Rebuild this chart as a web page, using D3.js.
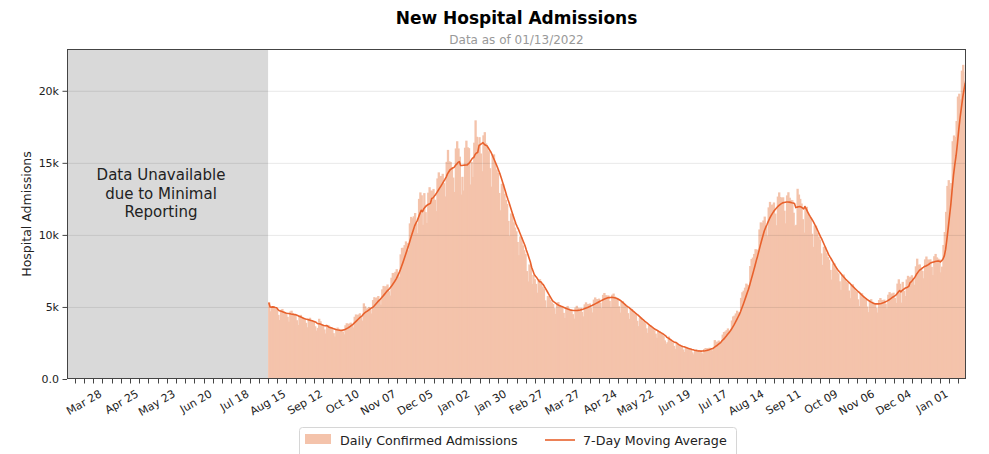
<!DOCTYPE html>
<html>
<head>
<meta charset="utf-8">
<script src="https://cdn.jsdelivr.net/npm/d3@7"></script>
<style>
  body { margin: 0; background: #fff; }
  svg { display: block; font-family: "DejaVu Sans", sans-serif; }
</style>
</head>
<body>
<div id="chart"></div>
<script>
// daily confirmed admissions, one value per day from START_DATE (week rows, Sat..Fri)
const START_DATE = "2020-08-01";
const dailyAdmissions = [
  5310, 4700, 4960, 5050, 4930, 4850, 4820,
  4450, 4090, 4800, 4860, 4680, 4600, 4570,
  4320, 3980, 4680, 4740, 4580, 4500, 4480,
  4080, 3750, 4400, 4450, 4290, 4220, 4180,
  3900, 3590, 4200, 4250, 4100, 4030, 3990,
  3660, 3360, 3550, 4180, 4010, 3760, 3720,
  3440, 3160, 3710, 3750, 3620, 3560, 3530,
  3180, 2950, 3500, 3570, 3480, 3450, 3460,
  3290, 3100, 3730, 3870, 3820, 3850, 3910,
  3790, 3580, 4320, 4480, 4440, 4480, 4560,
  4290, 4050, 5250, 5050, 4890, 4920, 5000,
  4820, 4550, 5480, 5680, 5620, 5660, 5760,
  5460, 5160, 6220, 6460, 6390, 6440, 6560,
  6090, 5790, 7030, 7360, 7330, 7440, 7620,
  7400, 7090, 8650, 9100, 9110, 9290, 9550,
  9430, 8930, 10800, 11250, 11160, 11290, 11520,
  10800, 10120, 12500, 12950, 12750, 10700, 12900,
  11580, 10830, 12930, 13310, 13070, 13070, 13190,
  12440, 11650, 13920, 14340, 14080, 14090, 14240,
  13590, 12670, 15070, 15900, 15110, 15060, 14710,
  13980, 12980, 16000, 16500, 16000, 15430, 12800,
  14030, 13080, 16050, 16540, 16080, 16020, 13500,
  15070, 14020, 16400, 17950, 16810, 16300, 16780,
  15650, 14420, 16910, 17130, 16350, 16090, 15800,
  14630, 13350, 15540, 15590, 14910, 14540, 14300,
  12910, 11710, 13550, 13520, 12850, 12440, 12150,
  10970, 9940, 11490, 11450, 10870, 10510, 10250,
  9510, 8590, 9890, 9820, 9280, 8940, 8680,
  7490, 6770, 7950, 7850, 6600, 7220, 6930,
  6600, 5990, 6940, 6930, 6600, 6400, 6260,
  5460, 4970, 5760, 5760, 5480, 5320, 5210,
  4920, 4520, 5290, 5340, 5140, 5050, 5000,
  4590, 4240, 4990, 5070, 4900, 4840, 4820,
  4500, 4190, 4960, 5080, 4950, 4920, 4940,
  4660, 4350, 5180, 5320, 5210, 5200, 5240,
  4950, 4620, 5510, 5660, 5550, 5540, 5580,
  5300, 4920, 5840, 5970, 5820, 5780, 5800,
  5420, 4990, 5850, 5930, 5720, 5620, 5590,
  5050, 4610, 5380, 5410, 5180, 5060, 4980,
  4570, 4170, 4840, 4860, 4640, 4510, 4440,
  4040, 3670, 4260, 4260, 4060, 3950, 3870,
  3520, 3200, 3720, 3720, 3550, 3450, 3380,
  3150, 2860, 3320, 3320, 3160, 3070, 3000,
  2680, 2430, 2550, 2950, 2760, 2620, 2510,
  2300, 2090, 2430, 2440, 2330, 2260, 2220,
  2050, 1880, 2190, 2200, 2120, 2070, 2040,
  1850, 1710, 2020, 2060, 1990, 1970, 1970,
  1840, 1730, 2080, 2150, 2120, 2140, 2170,
  2060, 1970, 2200, 2700, 2580, 2590, 2670,
  2580, 2500, 3080, 3260, 3300, 3390, 3510,
  3360, 3270, 4060, 4340, 4400, 4550, 4740,
  4630, 4520, 5630, 6020, 6130, 6340, 6620,
  6540, 6340, 7840, 8330, 8430, 8680, 9010,
  8980, 8550, 10380, 10870, 10830, 11000, 11270,
  10610, 9950, 11910, 12290, 12080, 12110, 12250,
  11480, 10670, 12660, 12950, 12630, 12560, 12610,
  11680, 10800, 12740, 12960, 12580, 12430, 12410,
  11540, 10630, 10700, 13200, 12800, 12500, 12180,
  11090, 10160, 11860, 11950, 11470, 11220, 11080,
  10080, 9170, 10650, 10650, 10160, 9870, 9680,
  8720, 7920, 9180, 9170, 8730, 8460, 8280,
  7570, 6900, 8020, 8030, 7670, 7470, 7340,
  6780, 6190, 7220, 7250, 6940, 6770, 6670,
  6140, 5610, 6540, 6570, 6300, 6140, 6050,
  5530, 5060, 5910, 5950, 5710, 5580, 5510,
  5030, 4640, 5460, 5540, 5360, 5290, 5270,
  4940, 4610, 5480, 5620, 5490, 5470, 5510,
  5230, 4900, 5850, 6030, 5920, 5930, 5990,
  5630, 5280, 6620, 6920, 6610, 5300, 6740,
  6120, 5760, 6910, 7160, 7060, 7100, 7200,
  6970, 6540, 7820, 8350, 7930, 7950, 7700,
  7500, 6990, 8300, 8500, 8300, 8260, 8310,
  7780, 7210, 8520, 8680, 8440, 8350, 8300,
  7400, 7800, 9300, 10200, 11600, 13400, 13800,
  13200, 13600, 16500, 16900, 16800, 17900, 19600,
  19800, 19400, 21400, 21800, 20700, 21300
];

const X_DOMAIN = ["2020-03-01", "2022-01-14"];
const FIRST_LABEL_DATE = "2020-03-28"; // labelled every 4 weeks from here
const yTickValues = [0, 5000, 10000, 15000, 20000];
const yTickLabels = ["0.0", "5k", "10k", "15k", "20k"];
const Y_MAX = 22900;
const legendLabels = ["Daily Confirmed Admissions", "7-Day Moving Average"];
const unavailableLines = ["Data Unavailable", "due to Minimal", "Reporting"];

const WIDTH = 989,
    HEIGHT = 454,
    MARGIN = {top: 49, right: 23, bottom: 75, left: 67},
    COLOR_BAR = "#f4c3ab",
    COLOR_LINE = "#e8612c",
    COLOR_GRAY = "#d9d9d9",
    COLOR_TEXT = "#222",
    COLOR_SPINE = "#444";

const parse = d3.utcParse("%Y-%m-%d");
const start = parse(START_DATE);

// 7-day trailing mean of the daily values
const data = dailyAdmissions.map((v, i) => {
    const win = dailyAdmissions.slice(Math.max(0, i - 6), i + 1);
    return {date: d3.utcDay.offset(start, i), value: v, avg: d3.mean(win)};
});

const svg = d3.select("#chart")
    .append("svg")
    .attr("width", WIDTH)
    .attr("height", HEIGHT);

const x = d3.scaleUtc()
    .domain(X_DOMAIN.map(parse))
    .range([MARGIN.left, WIDTH - MARGIN.right]);

const y = d3.scaleLinear()
    .domain([0, Y_MAX])
    .range([HEIGHT - MARGIN.bottom, MARGIN.top]);

const plotTop = MARGIN.top, plotBottom = HEIGHT - MARGIN.bottom;

// gray "no data" zone
svg.append("rect")
    .attr("x", x.range()[0])
    .attr("y", plotTop)
    .attr("width", x(start) - x.range()[0])
    .attr("height", plotBottom - plotTop)
    .attr("fill", COLOR_GRAY);

svg.append("text")
    .attr("text-anchor", "middle")
    .attr("font-size", 15)
    .attr("fill", COLOR_TEXT)
    .selectAll("tspan")
    .data(unavailableLines)
    .join("tspan")
    .attr("x", 161)
    .attr("y", (d, i) => 180 + i * 18.5)
    .text(d => d);

// bars (slightly widened so neighbours overlap without seams)
const dayW = x(d3.utcDay.offset(start, 1)) - x(start);
svg.append("g")
    .attr("fill", COLOR_BAR)
    .selectAll("rect")
    .data(data)
    .join("rect")
    .attr("x", d => x(d.date))
    .attr("y", d => y(d.value))
    .attr("width", (d, i) => i === data.length - 1 ? dayW : dayW + 1)
    .attr("height", d => y(0) - y(d.value));

// gridlines (drawn over bars like the original)
svg.append("g")
    .selectAll("line")
    .data(yTickValues.slice(1))
    .join("line")
    .attr("x1", x.range()[0])
    .attr("x2", x.range()[1])
    .attr("y1", d => y(d) + 0.5)
    .attr("y2", d => y(d) + 0.5)
    .attr("stroke", "#000")
    .attr("stroke-opacity", 0.09);

// moving average
svg.append("path")
    .datum(data)
    .attr("fill", "none")
    .attr("stroke", COLOR_LINE)
    .attr("stroke-width", 1.6)
    .attr("stroke-linejoin", "round")
    .attr("d", d3.line().x(d => x(d.date) + dayW / 2).y(d => y(d.avg)));

// frame
svg.append("rect")
    .attr("x", x.range()[0] + 0.5)
    .attr("y", plotTop + 0.5)
    .attr("width", x.range()[1] - x.range()[0] - 1)
    .attr("height", plotBottom - plotTop - 1)
    .attr("fill", "none")
    .attr("stroke", COLOR_SPINE);

// y axis
const yAxis = svg.append("g");
yTickValues.forEach((v, i) => {
    yAxis.append("line")
        .attr("x1", x.range()[0] - 4.5).attr("x2", x.range()[0])
        .attr("y1", y(v) + 0.5).attr("y2", y(v) + 0.5)
        .attr("stroke", COLOR_SPINE);
    yAxis.append("text")
        .attr("x", x.range()[0] - 8)
        .attr("y", y(v))
        .attr("dy", "0.35em")
        .attr("text-anchor", "end")
        .attr("font-size", 11)
        .attr("fill", COLOR_TEXT)
        .text(yTickLabels[i]);
});

svg.append("text")
    .attr("transform", `translate(27,${(plotTop + plotBottom) / 2}) rotate(-90)`)
    .attr("text-anchor", "middle")
    .attr("dy", "0.35em")
    .attr("font-size", 12.5)
    .attr("fill", COLOR_TEXT)
    .text("Hospital Admissions");

// x axis: weekly ticks, label every 4th week
const weeks = d3.utcSaturday.range(x.domain()[0], x.domain()[1]);
const firstLabel = parse(FIRST_LABEL_DATE);
const fmt = d3.utcFormat("%b %d");
const xAxis = svg.append("g");
xAxis.selectAll("line")
    .data(weeks)
    .join("line")
    .attr("x1", d => Math.round(x(d)) + 0.5)
    .attr("x2", d => Math.round(x(d)) + 0.5)
    .attr("y1", plotBottom)
    .attr("y2", plotBottom + 4.5)
    .attr("stroke", COLOR_SPINE);
xAxis.selectAll("text")
    .data(weeks.filter(d => d >= firstLabel && d3.utcDay.count(firstLabel, d) % 28 === 0))
    .join("text")
    .attr("transform", d => `translate(${x(d)},${plotBottom + 17}) rotate(-30)`)
    .attr("text-anchor", "end")
    .attr("font-size", 11)
    .attr("fill", COLOR_TEXT)
    .text(fmt);

// titles
svg.append("text")
    .attr("x", (x.range()[0] + x.range()[1]) / 2)
    .attr("y", 24)
    .attr("text-anchor", "middle")
    .attr("font-size", 17)
    .attr("font-weight", "bold")
    .attr("fill", "#000")
    .text("New Hospital Admissions");
svg.append("text")
    .attr("x", (x.range()[0] + x.range()[1]) / 2)
    .attr("y", 44)
    .attr("text-anchor", "middle")
    .attr("font-size", 12)
    .attr("fill", "#999")
    .text("Data as of 01/13/2022");

// legend
const legend = svg.append("g");
legend.append("rect")
    .attr("x", 299.5).attr("y", 427.5)
    .attr("width", 437).attr("height", 32)
    .attr("rx", 3)
    .attr("fill", "#fff")
    .attr("stroke", "#d6d6d6");
legend.append("rect")
    .attr("x", 305).attr("y", 434)
    .attr("width", 26).attr("height", 10)
    .attr("fill", COLOR_BAR);
legend.append("text")
    .attr("x", 340).attr("y", 445)
    .attr("font-size", 12.7)
    .attr("fill", COLOR_TEXT)
    .text(legendLabels[0]);
legend.append("line")
    .attr("x1", 545).attr("x2", 575)
    .attr("y1", 440).attr("y2", 440)
    .attr("stroke", COLOR_LINE)
    .attr("stroke-width", 1.6);
legend.append("text")
    .attr("x", 583).attr("y", 445)
    .attr("font-size", 12.7)
    .attr("fill", COLOR_TEXT)
    .text(legendLabels[1]);
</script>
</body>
</html>
